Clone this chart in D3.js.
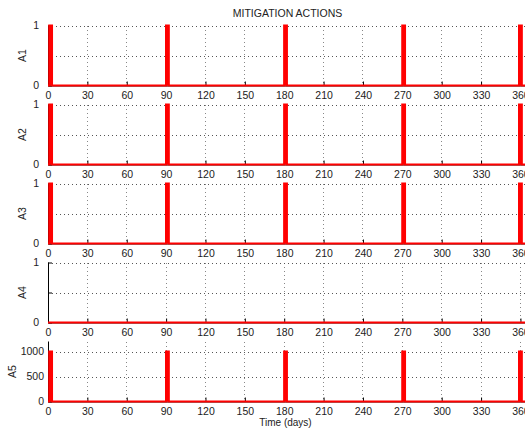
<!DOCTYPE html>
<html><head><meta charset="utf-8">
<script src="https://cdn.jsdelivr.net/npm/d3@7"></script>
<style>
html,body{margin:0;padding:0;background:#fff;}
svg{display:block;font-family:"Liberation Sans",Arial,Helvetica,sans-serif;}
</style></head>
<body>
<svg id="chart" width="525" height="428"></svg>
<script>
// ---- data ----
const title = "MITIGATION ACTIONS";
const xLabel = "Time (days)";
const panelNames = ["A1", "A2", "A3", "A4", "A5"];
const xTicks = [0, 30, 60, 90, 120, 150, 180, 210, 240, 270, 300, 330, 360];
// days on which each action is active (value > 0)
const a1Days = [1, 2, 90, 91, 180, 181, 270, 271, 359, 360];
const a2Days = [1, 2, 90, 91, 180, 181, 270, 271, 359, 360];
const a3Days = [1, 2, 90, 91, 180, 181, 270, 271, 359, 360];
const a4Days = [];
const a5Days = [1, 2, 90, 91, 180, 181, 270, 271, 359, 360];
// value taken on active days
const activeLevels = [1, 1, 1, 1, 1000];
const yMaxes = [1, 1, 1, 1, 1200];
const yTickSets = [[0, 0.5, 1], [0, 0.5, 1], [0, 0.5, 1], [0, 0.5, 1], [0, 500, 1000]];
const yTickLabelSets = [["0", "", "1"], ["0", "", "1"], ["0", "", "1"], ["0", "", "1"], ["0", "500", "1000"]];
const lastDay = 365;

const seriesDays = [a1Days, a2Days, a3Days, a4Days, a5Days];

// ---- layout ----
const svg = d3.select("#chart");
const left = 48, right = 527;
const panelH = 60, firstBottom = 85.5, step = 79;
const yPads = [9, 9, 9, 9, 4];
const yLabelX = [22.5, 22.5, 22.5, 22.5, 12.5];

const x = d3.scaleLinear().domain([0, lastDay]).range([left, right]);

svg.append("defs").append("clipPath").attr("id", "clip")
  .append("rect").attr("x", 0).attr("y", 0).attr("width", 525).attr("height", 428);

const root = svg.append("g").attr("clip-path", "url(#clip)");

root.append("text").attr("x", (left + right) / 2).attr("y", 17)
  .attr("text-anchor", "middle").attr("font-size", 10.5).attr("fill", "#222").text(title);

panelNames.forEach((name, i) => {
  const bottom = firstBottom + i * step;
  const top = bottom - panelH;
  const y = d3.scaleLinear().domain([0, yMaxes[i]]).range([bottom, top]);
  const g = root.append("g");

  // grid
  const grid = g.append("g");
  xTicks.forEach(t => {
    grid.append("line").attr("x1", x(t)).attr("x2", x(t)).attr("y1", top).attr("y2", bottom)
      .attr("stroke", "#888").attr("stroke-width", 1).attr("stroke-dasharray", "1,3")
      .attr("shape-rendering", "crispEdges");
  });
  yTickSets[i].filter(v => v > 0).forEach(v => {
    grid.append("line").attr("x1", left).attr("x2", right).attr("y1", Math.round(y(v)) + 0.5).attr("y2", Math.round(y(v)) + 0.5)
      .attr("stroke", "#555").attr("stroke-width", 1).attr("stroke-dasharray", "1,3")
      .attr("shape-rendering", "crispEdges");
  });

  // x axis (ticks pointing inward)
  const xAxis = d3.axisBottom(x).tickValues(xTicks).tickSizeInner(-4).tickSizeOuter(0).tickPadding(6);
  const xa = g.append("g").attr("transform", `translate(0,${bottom})`).call(xAxis);
  xa.select(".domain").attr("stroke", "#000");
  xa.selectAll(".tick line").attr("stroke", "#000");
  xa.selectAll("text").attr("font-size", 10.5).attr("fill", "#222").attr("font-family", "Liberation Sans,Arial,sans-serif");

  // y axis (ticks pointing inward)
  const yAxis = d3.axisLeft(y).tickValues(yTickSets[i]).tickFormat((d, k) => yTickLabelSets[i][k])
    .tickSizeInner(-4).tickSizeOuter(0).tickPadding(yPads[i]);
  const ya = g.append("g").attr("transform", `translate(${left},0)`).call(yAxis);
  ya.select(".domain").attr("stroke", "#000").attr("d", `M0.5,${top}V${bottom}`);
  ya.selectAll(".tick line").attr("stroke", "#000");
  ya.selectAll("text").attr("font-size", 10.5).attr("fill", "#222").attr("font-family", "Liberation Sans,Arial,sans-serif");

  // y label
  g.append("text").attr("transform", `translate(${yLabelX[i]},${(top + bottom) / 2}) rotate(-90)`)
    .attr("text-anchor", "middle").attr("dy", "0.35em").attr("font-size", 10.5).attr("fill", "#222").text(name);

  // series (filled so the short pulses read as solid bars)
  const active = new Set(seriesDays[i]);
  const data = d3.range(0, lastDay + 1).map(d => ({ day: d, v: active.has(d) ? activeLevels[i] : 0 }));
  const line = d3.line().x(d => x(d.day)).y(d => y(d.v)).curve(d3.curveStepAfter);
  g.append("path").datum(data).attr("d", line).attr("fill", "#ff0000")
    .attr("stroke", "#ff0000").attr("stroke-width", 2.2).attr("stroke-linejoin", "miter");
});

root.append("text").attr("x", (left + right) / 2 - 2).attr("y", 426)
  .attr("text-anchor", "middle").attr("font-size", 10).attr("fill", "#222").text(xLabel);
</script>
</body></html>
